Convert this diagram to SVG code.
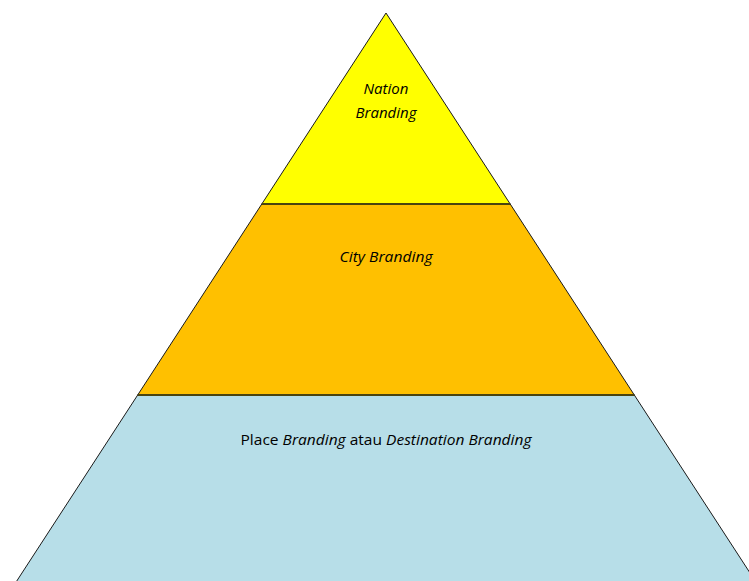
<svg xmlns="http://www.w3.org/2000/svg" width="749" height="581" viewBox="0 0 749 581">
<style>
.lvl{stroke:#1a1a1a;stroke-width:1;stroke-linejoin:miter}
.sep{stroke:#4a4410;stroke-width:2}
.t{font-family:"Open Sans","Noto Sans","Liberation Sans",sans-serif;font-size:15px;fill:#000;text-anchor:middle}
.i{font-style:italic}
</style>
<rect width="749" height="581" fill="#fff"/>
<g id="place">
<polygon class="lvl" points="137.7,395 634.3,395 758.5,586 13.5,586" fill="#B7DEE8"/>
<text class="t" x="386" y="445" textLength="291" lengthAdjust="spacingAndGlyphs"><tspan>Place </tspan><tspan class="i">Branding</tspan><tspan> atau </tspan><tspan class="i">Destination Branding</tspan></text>
</g>
<g id="city">
<polygon class="lvl" points="261.8,204 510.2,204 634.3,395 137.7,395" fill="#FFC000"/>
<text class="t i" x="386" y="262" textLength="93" lengthAdjust="spacingAndGlyphs">City Branding</text>
</g>
<g id="nation">
<polygon class="lvl" points="386,13 510.2,204 261.8,204" fill="#FFFF00"/>
<text class="t i" x="386" y="94">Nation</text>
<text class="t i" x="386" y="118">Branding</text>
</g>
<g id="connectors">
<line class="sep" x1="261.8" y1="204" x2="510.2" y2="204"/>
<line class="sep" x1="137.7" y1="395" x2="634.3" y2="395"/>
</g>
</svg>
